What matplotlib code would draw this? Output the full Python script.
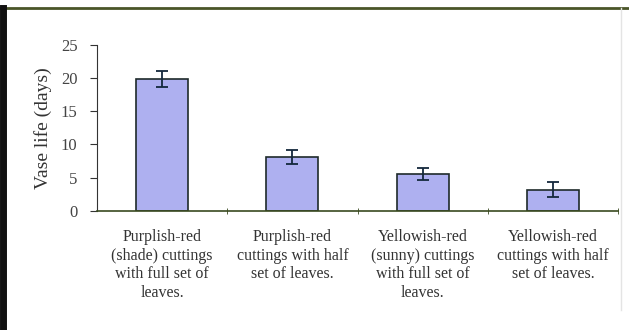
import matplotlib.pyplot as plt
from matplotlib.lines import Line2D

plt.rcParams['font.family'] = ['Liberation Serif', 'DejaVu Serif']

# vase life of cuttings per treatment
categories = ['Purplish-red\n(shade) cuttings\nwith full set of\nleaves.',
              'Purplish-red\ncuttings with half\nset of leaves.',
              'Yellowish-red\n(sunny) cuttings\nwith full set of\nleaves.',
              'Yellowish-red\ncuttings with half\nset of leaves.']
vase_life = [19.8, 8.1, 5.6, 3.2]
errors = [1.2, 1.0, 0.9, 1.1]
y_ticks = [0, 5, 10, 15, 20, 25]

fig = plt.figure(figsize=(6.29, 3.30), dpi=100)
ax = fig.add_axes([0.154, 0.361, 0.829, 0.503])

x = list(range(len(categories)))
ax.bar(x, vase_life, width=0.4, color='#aeb0f0', edgecolor='#1e2a2a', linewidth=1.2,
       yerr=errors, capsize=4, error_kw={'ecolor': '#14283c', 'elinewidth': 1.3, 'capthick': 1.3})

ax.set_xlim(-0.5, 3.5)
ax.set_ylim(0, 25)
ax.set_yticks(y_ticks)
ax.set_xticks(x)
ax.set_xticklabels(categories, fontsize=11.5, color='#333333', linespacing=1.22)
ax.tick_params(axis='x', length=0, pad=13)
ax.set_xticks([0.5, 1.5, 2.5, 3.5], minor=True)
ax.tick_params(axis='x', which='minor', length=4, color='#3a4a20', direction='inout')
ax.tick_params(axis='y', length=5, color='#333333', labelsize=12, labelcolor='#444444', pad=9)
ax.set_ylabel('Vase life (days)', fontsize=14, color='#333333', labelpad=6)

for side in ['top', 'right']:
    ax.spines[side].set_visible(False)
ax.spines['left'].set_color('#333333')
ax.spines['bottom'].set_color('#3a4a20')
ax.spines['bottom'].set_linewidth(1.2)

# frame around the figure
fig.add_artist(Line2D([0.0, 1.0], [0.975, 0.975], color='#4a5528', linewidth=2))
fig.add_artist(Line2D([0.005, 0.005], [0.0, 0.975], color='#111111', linewidth=5))
fig.add_artist(Line2D([0.988, 0.988], [0.06, 0.975], color='#e4e4e4', linewidth=1))

fig.savefig('out.png', dpi=100)
